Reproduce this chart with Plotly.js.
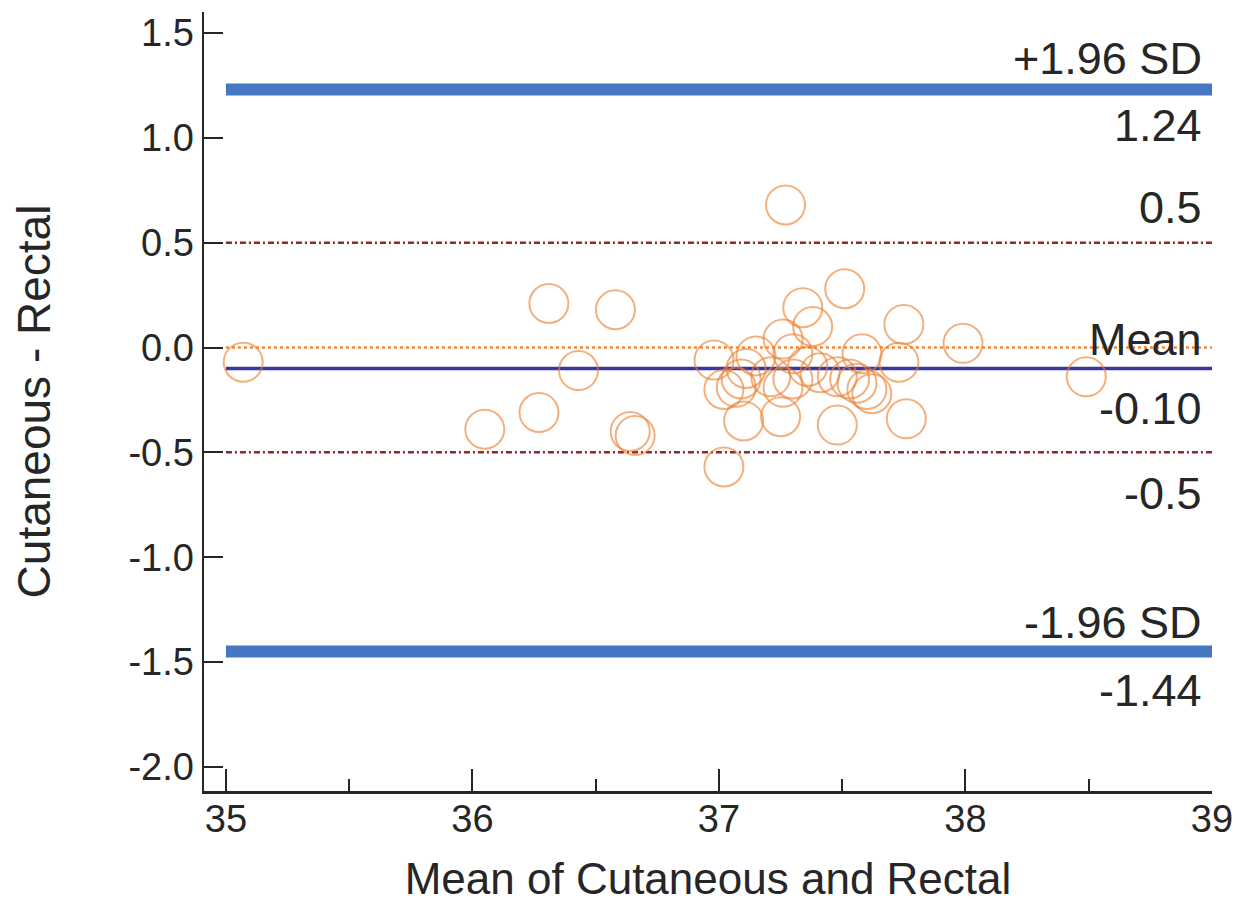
<!DOCTYPE html>
<html>
<head>
<meta charset="utf-8">
<script src="https://cdn.plot.ly/plotly-3.0.1.min.js"></script>
<style>html,body{margin:0;padding:0;background:#fff;}#chart{width:1239px;height:918px;}</style>
</head>
<body>
<div id="chart"></div>
<script>
// Bland-Altman data: mean of cutaneous & rectal vs difference
const meanVals = [35.07, 36.05, 36.27, 36.31, 36.43, 36.58, 36.64, 36.66,
  36.98, 37.02, 37.02, 37.07, 37.09, 37.10, 37.11, 37.15, 37.21, 37.25, 37.26, 37.26,
  37.27, 37.30, 37.30, 37.34, 37.36, 37.38, 37.41, 37.48, 37.48, 37.51,
  37.53, 37.56, 37.58, 37.60, 37.62, 37.73, 37.75, 37.76, 37.99, 38.49];
const diffVals = [-0.07, -0.39, -0.31, 0.21, -0.11, 0.18, -0.40, -0.42,
  -0.06, -0.57, -0.20, -0.19, -0.15, -0.35, -0.10, -0.04, -0.14, -0.33, 0.04, -0.19,
  0.68, -0.03, -0.15, 0.19, -0.09, 0.10, -0.12, -0.14, -0.37, 0.28,
  -0.15, -0.17, -0.03, -0.20, -0.22, -0.07, 0.11, -0.34, 0.02, -0.14];

const upperSD = 1.23, lowerSD = -1.45, meanDiff = -0.10;
const limitHi = 0.5, limitLo = -0.5, zeroLine = 0.0;
const upperLabel = "1.24", lowerLabel = "-1.44", meanLabel = "-0.10";
const xTicks = [35, 36, 37, 38, 39];
const yTicks = [1.5, 1.0, 0.5, 0.0, -0.5, -1.0, -1.5, -2.0];
const xLineStart = 35.0, xLineEnd = 39.0;

const font = "Liberation Sans, Arial, sans-serif";
const txtColor = "#262626";

const scatter = {
  x: meanVals, y: diffVals, type: "scatter", mode: "markers",
  marker: {symbol: "circle-open", size: 39, color: "rgba(236,128,48,0.62)", line: {width: 2, color: "rgba(236,128,48,0.62)"}},
  hoverinfo: "x+y", showlegend: false
};

function hline(y, color, width, dash) {
  return {type: "line", xref: "x", yref: "y", x0: xLineStart, x1: xLineEnd, y0: y, y1: y,
    line: {color: color, width: width, dash: dash}, layer: "below"};
}

const shapes = [
  hline(upperSD, "#4677c2", 12, "solid"),
  hline(lowerSD, "#4677c2", 12, "solid"),
  hline(limitHi, "#8a2a2a", 2.5, "6px,3px,2px,3px"),
  hline(limitLo, "#8a2a2a", 2.5, "6px,3px,2px,3px"),
  hline(zeroLine, "#ef8a3a", 2.5, "dot"),
  hline(meanDiff, "#3a35a0", 3.5, "solid")
];

function ann(text, y, shift) {
  return {text: text, xref: "x", yref: "y", x: xLineEnd, y: y, xanchor: "right", yanchor: "middle",
    xshift: -8, yshift: shift, showarrow: false, font: {family: font, size: 45, color: txtColor}};
}

const annotations = [
  ann("+1.96 SD", upperSD, 31),
  ann(upperLabel, upperSD, -36),
  ann(String(limitHi), limitHi, 35),
  ann("Mean", meanDiff, 29),
  ann(meanLabel, meanDiff, -40),
  ann(String(limitLo), limitLo, -41),
  ann("-1.96 SD", lowerSD, 29),
  ann(lowerLabel, lowerSD, -39)
];

const layout = {
  width: 1239, height: 918,
  margin: {l: 204, r: 27, t: 12, b: 127},
  paper_bgcolor: "#fff", plot_bgcolor: "#fff",
  showlegend: false,
  font: {family: font, color: txtColor},
  xaxis: {
    range: [34.911, 39.0], showgrid: false, zeroline: false,
    showline: true, linecolor: "#262626", linewidth: 2.5,
    ticks: "inside", ticklen: 22, tickwidth: 2, tickcolor: "#262626",
    tickvals: xTicks, ticktext: xTicks.map(String),
    minor: {ticks: "inside", ticklen: 12, tickwidth: 2, tickcolor: "#262626", dtick: 0.5, tick0: 35, showgrid: false},
    tickfont: {family: font, size: 38, color: txtColor},
    ticklabelstandoff: -7,
    title: {text: "Mean of Cutaneous and Rectal", font: {family: font, size: 44, color: txtColor}, standoff: 24}
  },
  yaxis: {
    range: [-2.115, 1.60], showgrid: false, zeroline: false,
    showline: true, linecolor: "#262626", linewidth: 2.5,
    ticks: "inside", ticklen: 19, tickwidth: 2, tickcolor: "#262626",
    tickvals: yTicks, ticktext: yTicks.map(v => v.toFixed(1)),
    tickfont: {family: font, size: 38, color: txtColor},
    ticklabelstandoff: 0,
    title: {text: "Cutaneous - Rectal", font: {family: font, size: 46, color: txtColor}, standoff: 64}
  },
  shapes: shapes,
  annotations: annotations
};

Plotly.newPlot("chart", [scatter], layout, {displayModeBar: false, staticPlot: true});
</script>
</body>
</html>
